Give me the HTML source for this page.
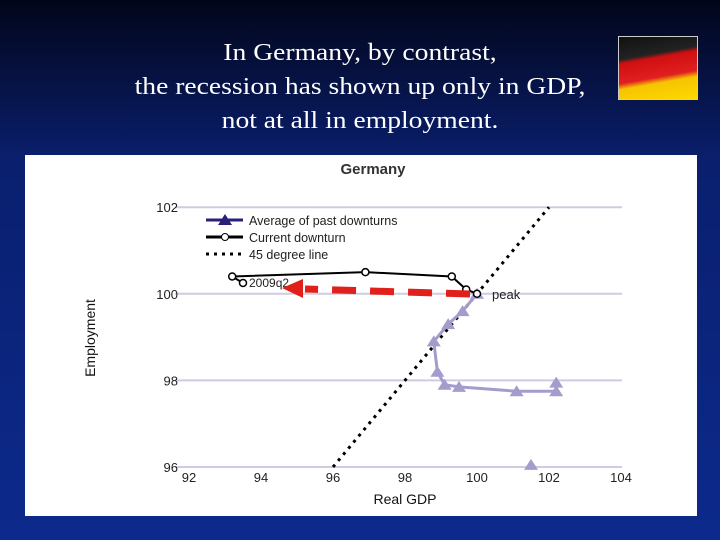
<!DOCTYPE html>
<html><head><meta charset="utf-8"><style>
body{margin:0;width:720px;height:540px;overflow:hidden;background:linear-gradient(180deg,#02061a 0%,#0a1f6e 30%,#0c2a8c 100%);font-family:"Liberation Sans",sans-serif;position:relative}
.title{position:absolute;left:60px;top:36px;width:600px;text-align:center;color:#fff;font-family:"Liberation Serif",serif;font-size:24px;line-height:34px;transform:scaleX(1.15);transform-origin:50% 0}
</style></head><body>
<div class="title">In Germany, by contrast,<br>the recession has shown up only in GDP,<br>not at all in employment.</div>
<div style="position:absolute;left:618px;top:36px;width:78px;height:62px;background:linear-gradient(170deg,#111 0%,#222 30%,#d01010 36%,#e02020 62%,#f5c400 70%,#ffd800 100%);border:1px solid #ccc"></div>
<svg id="chart" style="position:absolute;left:25px;top:155px" width="672" height="361" viewBox="25 155 672 361">
<rect x="25" y="155" width="672" height="361" fill="#fff"/>
</svg>
<script>
const xTicks=[92,94,96,98,100,102,104];
const yTicks=[96,98,100,102];
const pastX=[100,99.6,99.2,98.8,98.9,99.1,99.5,101.1,102.2,102.2];
const pastY=[100,99.6,99.3,98.9,98.2,97.9,97.85,97.75,97.75,97.95];
const strayX=[101.5];const strayY=[96.05];
const curX=[100,99.7,99.3,96.9,93.2,93.5];
const curY=[100,100.1,100.4,100.5,100.4,100.25];
const lineX=[96,102];const lineY=[96,102];
const X=v=>189+(v-92)*36, Y=v=>467-(v-96)*43.3;
const s=document.getElementById('chart'),NS='http://www.w3.org/2000/svg';
function mk(t,a,p){const e=document.createElementNS(NS,t);for(const k in a)e.setAttribute(k,a[k]);(p||s).appendChild(e);return e;}
yTicks.forEach(v=>{const g=mk('line',{x1:175,x2:622,y1:Y(v),y2:Y(v),stroke:'#cfcbe4','stroke-width':2});


const t=mk('text',{x:178,y:Y(v)+5,'text-anchor':'end','font-size':13,fill:'#222'});t.textContent=v;

});
xTicks.forEach(v=>{const t=mk('text',{x:X(v),y:482,'text-anchor':'middle','font-size':13,fill:'#222'});t.textContent=v;

});
let t=mk('text',{x:405,y:504,'text-anchor':'middle','font-size':14,fill:'#111'});t.textContent='Real GDP';

t=mk('text',{x:0,y:0,'text-anchor':'middle','font-size':14,fill:'#111',transform:'translate(95,338) rotate(-90)'});t.textContent='Employment';

t=mk('text',{x:373,y:174,'text-anchor':'middle','font-size':15,'font-weight':'bold',fill:'#333'});t.textContent='Germany';

let l=mk('line',{x1:X(lineX[0]),y1:Y(lineY[0]),x2:X(lineX[1]),y2:Y(lineY[1]),stroke:'#000','stroke-width':3,'stroke-dasharray':'3 5'});

const tri=(x,y)=>`${x-7},${y+5} ${x+7},${y+5} ${x},${y-6}`;
let p=mk('polyline',{points:pastX.map((v,i)=>X(v)+','+Y(pastY[i])).join(' '),fill:'none',stroke:'#a59ccc','stroke-width':3});

pastX.concat(strayX).forEach((v,i)=>{const yy=i<pastX.length?pastY[i]:strayY[i-pastX.length];const m=mk('polygon',{points:tri(X(v),Y(yy)),fill:'#a59ccc'});
});
p=mk('polyline',{points:curX.map((v,i)=>X(v)+','+Y(curY[i])).join(' '),fill:'none',stroke:'#000','stroke-width':2});

curX.forEach((v,i)=>{const c=mk('circle',{cx:X(v),cy:Y(curY[i]),r:3.5,fill:'#fff',stroke:'#000','stroke-width':1.5});
});
t=mk('text',{x:X(93.5)+6,y:Y(100.25)+4,'font-size':12,fill:'#222'});t.textContent='2009q2';

t=mk('text',{x:X(100)+15,y:Y(100)+5,'font-size':13,fill:'#222'});t.textContent='peak';

l=mk('line',{x1:470,y1:294,x2:305,y2:289,stroke:'#e0201a','stroke-width':7,'stroke-dasharray':'24 14'});

l=mk('polygon',{points:'282,288 303,279 303,298',fill:'#e0201a'});

const lg=[['Average of past downturns','#2a1f7a','tri'],['Current downturn','#000','circ'],['45 degree line','#000','dot']];
lg.forEach((d,i)=>{const y=220+i*17;
const ln=mk('line',{x1:206,x2:243,y1:y,y2:y,stroke:d[1],'stroke-width':3,'stroke-dasharray':d[2]=='dot'?'3 5':'none'});

if(d[2]=='tri')mk('polygon',{points:tri(225,y),fill:d[1]});
if(d[2]=='circ')mk('circle',{cx:225,cy:y,r:3.5,fill:'#fff',stroke:'#000'});
const tx=mk('text',{x:249,y:y+5,'font-size':12.5,fill:'#222'});tx.textContent=d[0];
});
</script>
</body></html>
